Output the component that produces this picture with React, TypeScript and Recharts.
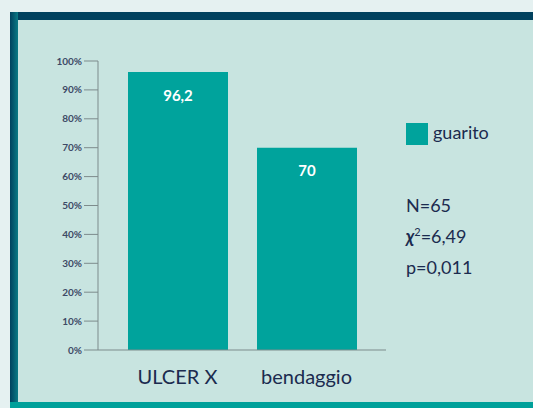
import { BarChart, Bar, XAxis, YAxis, LabelList } from 'recharts';

const categories = ['ULCER X', 'bendaggio'];
const guarito = [96.2, 70];
const yTicks = [0, 10, 20, 30, 40, 50, 60, 70, 80, 90, 100];
const legendLabel = 'guarito';
const statsLines = ['N=65', '=6,49', 'p=0,011'];

const chartData = categories.map((name, i) => ({ name, guarito: guarito[i] }));

const BAR_COLOR = '#00a39c';
const TEXT_COLOR = '#1b2b4f';
const FONT = 'Lato, "DejaVu Sans", sans-serif';

export default function App() {
  return (
    <div style={{ position: 'fixed', left: 0, top: 0, width: 533, height: 408, background: '#e5f1f1', overflow: 'hidden', fontFamily: FONT }}>
      {/* frame */}
      <div style={{ position: 'absolute', left: 10, top: 12, width: 523, height: 396, background: '#c8e4e0' }} />
      <div style={{ position: 'absolute', left: 10, top: 12, width: 523, height: 8, background: '#00415e' }} />
      <div style={{ position: 'absolute', left: 10, top: 12, width: 8, height: 396, background: 'linear-gradient(to right, #00415e, #0a7a85)' }} />
      <div style={{ position: 'absolute', left: 10, top: 402, width: 523, height: 6, background: '#00a09a' }} />

      <div style={{ position: 'absolute', left: 0, top: 0 }}>
        <BarChart width={533} height={408} data={chartData} margin={{ top: 61, right: 147, bottom: 0, left: 18 }}>
          <YAxis
            width={80}
            domain={[0, 100]}
            ticks={yTicks}
            interval={0}
            tickFormatter={(v: number) => `${v}%`}
            tickSize={14}
            tickMargin={2}
            axisLine={{ stroke: '#7d8b8c' }}
            tickLine={{ stroke: '#7d8b8c' }}
            tick={{ fill: '#3d4a66', fontSize: 10, fontWeight: 700, fontFamily: FONT }}
          />
          <XAxis
            dataKey="name"
            height={58}
            padding={{ left: 15, right: 15 }}
            tickLine={false}
            axisLine={{ stroke: '#7d8b8c' }}
            tickMargin={14}
            tick={{ fill: TEXT_COLOR, fontSize: 20, fontFamily: FONT }}
          />
          <Bar dataKey="guarito" fill={BAR_COLOR} barSize={100} isAnimationActive={false}>
            <LabelList
              dataKey="guarito"
              position="insideTop"
              offset={18}
              formatter={(v: number) => String(v).replace('.', ',')}
              style={{ fill: '#ffffff', fontSize: 15, fontWeight: 700, fontFamily: FONT }}
            />
          </Bar>
        </BarChart>
      </div>

      {/* legend */}
      <div style={{ position: 'absolute', left: 406, top: 123, width: 22, height: 22, background: BAR_COLOR }} />
      <div style={{ position: 'absolute', left: 433, top: 121, fontSize: 18, color: TEXT_COLOR }}>{legendLabel}</div>

      {/* stats */}
      <div style={{ position: 'absolute', left: 406, top: 190, fontSize: 18, color: TEXT_COLOR, lineHeight: '31px' }}>
        <div>{statsLines[0]}</div>
        <div style={{ height: 31 }}>
          <span style={{ fontWeight: 700, fontStyle: 'italic' }}>χ</span>
          <sup style={{ fontSize: 11, lineHeight: 0 }}>2</sup>
          {statsLines[1]}
        </div>
        <div>{statsLines[2]}</div>
      </div>
    </div>
  );
}
